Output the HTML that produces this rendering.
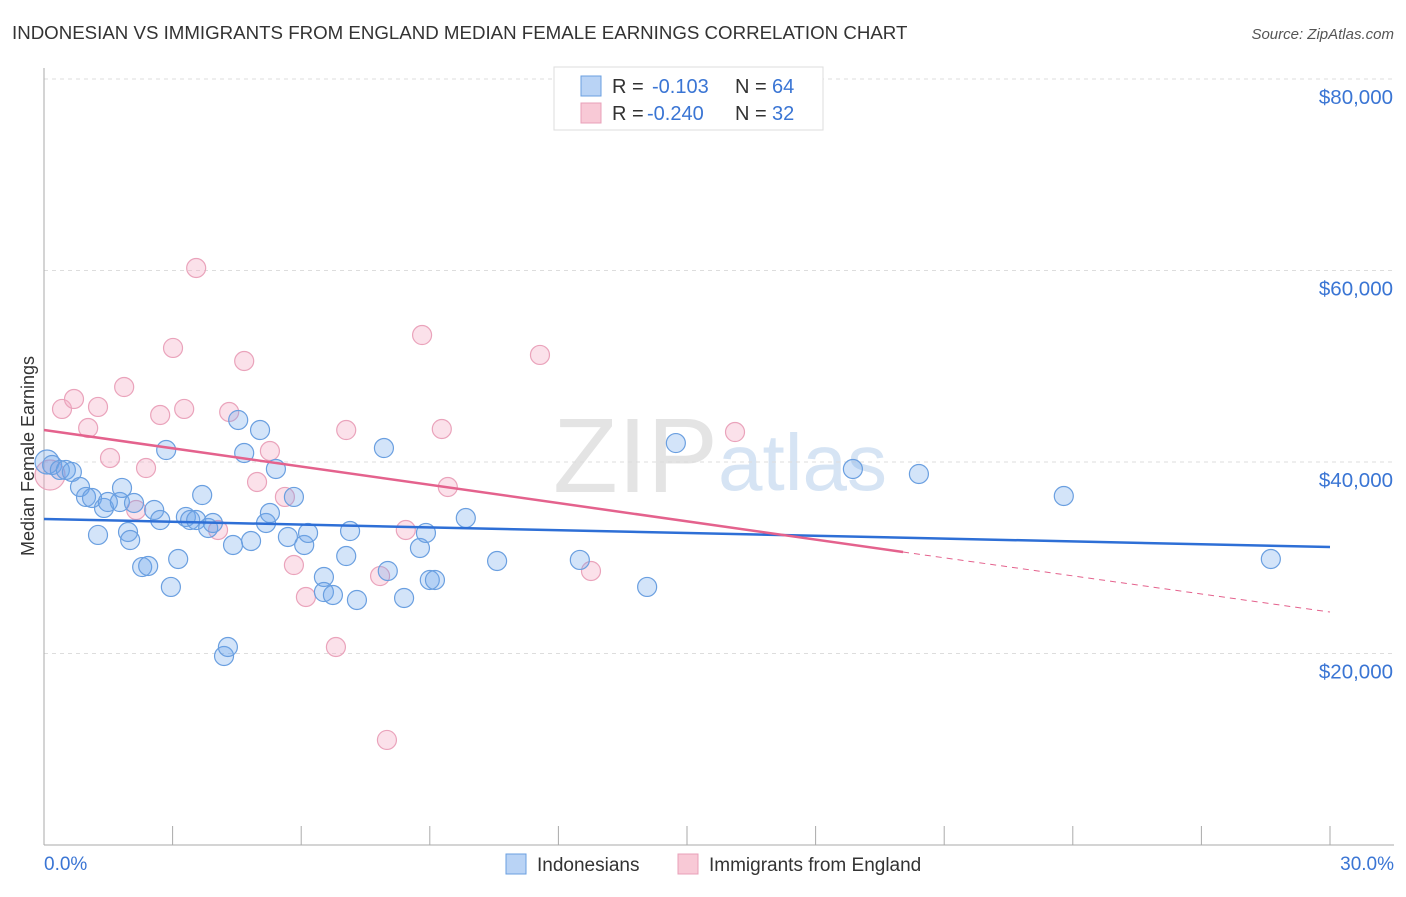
<!DOCTYPE html>
<html><head><meta charset="utf-8"><style>
body{margin:0;background:#fff;font-family:"Liberation Sans",sans-serif;}
svg text{font-family:"Liberation Sans",sans-serif;}
</style></head><body>
<svg id="chart" width="1406" height="892" xmlns="http://www.w3.org/2000/svg">
<text x="12" y="39" font-size="18.7" fill="#333">INDONESIAN VS IMMIGRANTS FROM ENGLAND MEDIAN FEMALE EARNINGS CORRELATION CHART</text>
<text x="1394" y="39" font-size="15" fill="#555" font-style="italic" text-anchor="end">Source: ZipAtlas.com</text>
<text x="553" y="492" font-size="106" fill="#e4e4e4" font-family="Liberation Serif">ZIP</text>
<text x="718" y="490" font-size="80" fill="#d6e4f4">atlas</text>
<g id="grid"></g><g id="axes"></g><g id="marks"></g>
<text transform="translate(34,456) rotate(-90)" font-size="18" fill="#333" text-anchor="middle">Median Female Earnings</text>
<g>
<rect x="554" y="67" width="269" height="63" fill="#fff" stroke="#ddd"/>
<rect x="581" y="76" width="20" height="20" fill="#b9d3f5" stroke="#6a9fe0"/>
<text x="612" y="93" font-size="20" fill="#333">R =</text>
<text x="652" y="93" font-size="20" fill="#3a75d4">-0.103</text>
<text x="735" y="93" font-size="20" fill="#333">N =</text>
<text x="772" y="93" font-size="20" fill="#3a75d4">64</text>
<rect x="581" y="103" width="20" height="20" fill="#f8c9d6" stroke="#e8a0b8"/>
<text x="612" y="120" font-size="20" fill="#333">R =</text>
<text x="647" y="120" font-size="20" fill="#3a75d4">-0.240</text>
<text x="735" y="120" font-size="20" fill="#333">N =</text>
<text x="772" y="120" font-size="20" fill="#3a75d4">32</text>
</g>
<g>
<rect x="506" y="854" width="20" height="20" fill="#b9d3f5" stroke="#6a9fe0"/>
<text x="537" y="871" font-size="19" fill="#333">Indonesians</text>
<rect x="678" y="854" width="20" height="20" fill="#f8c9d6" stroke="#e8a0b8"/>
<text x="709" y="871" font-size="19" fill="#333">Immigrants from England</text>
</g>
</svg>
<script>
const blueX=[0.07,0.19,0.37,0.51,0.65,0.84,0.98,1.12,1.40,1.49,1.77,1.82,1.26,1.96,2.01,2.10,2.29,2.43,2.57,2.71,2.85,2.96,3.13,3.31,3.41,3.55,3.69,3.83,3.94,4.20,4.29,4.41,4.53,4.67,4.83,5.04,5.18,5.27,5.41,5.69,5.83,6.07,6.16,6.53,6.53,6.74,7.05,7.14,7.30,7.93,8.02,8.40,8.77,8.91,9.00,9.12,9.84,10.57,12.50,14.07,14.74,18.87,20.41,23.79,28.62];
const blueY=[40000,39690,39170,39170,38960,37390,36350,36240,35200,35820,35820,37290,32380,32690,31850,35720,29030,29140,34990,33940,41250,26950,29870,34260,33940,33940,36550,33110,33630,19740,20680,31330,44390,40940,31750,43340,33630,34670,39270,32170,36350,31330,32590,27990,26420,26110,30180,32790,25590,41460,28620,25800,31020,32590,27680,27680,34150,29660,29770,26950,41980,39270,38750,36450,29870];
const pinkX=[0.14,0.42,0.70,1.03,1.26,1.54,1.87,2.15,2.38,2.71,3.01,3.27,3.55,4.06,4.32,4.67,4.97,5.27,5.62,5.83,6.11,6.81,7.05,7.84,8.00,8.44,8.82,9.28,9.42,11.57,12.76,16.12];
const pinkY=[38640,45540,46580,43550,45750,40420,47830,34990,39370,44910,51910,45540,60260,32900,45220,50550,37910,41150,36350,29240,25900,20680,43340,28090,10970,32900,53260,43450,37390,51180,28620,43130];
const blueTrend=[34050,31120];
const pinkTrend=[43340,30600,24330]; // at 0%, 20.04%, 30%
const pinkSolidEnd=20.04;
const yTicks=[20000,40000,60000,80000];
const yTickLabels=["$20,000","$40,000","$60,000","$80,000"];
const xTicks=[0,3,6,9,12,15,18,21,24,27,30];

const NS="http://www.w3.org/2000/svg";
const sx=v=>44+v/30*1286, sy=v=>845-v/80000*766;
function mk(tag,attrs,parent){const e=document.createElementNS(NS,tag);for(const k in attrs)e.setAttribute(k,attrs[k]);document.getElementById(parent).appendChild(e);return e;}
yTicks.forEach((t,i)=>{
 const g=mk('line',{x1:44,x2:1394,y1:sy(t),y2:sy(t),stroke:'#ddd','stroke-dasharray':'4,4'},'grid');
 
 
 const l=mk('text',{x:1393,y:sy(t)+25,'font-size':20.5,fill:'#3a75d4','text-anchor':'end'},'axes');
 l.textContent=yTickLabels[i];
 
 
});
mk('line',{x1:44,x2:44,y1:68,y2:845,stroke:'#aaa'},'axes');
mk('line',{x1:44,x2:1394,y1:845,y2:845,stroke:'#aaa'},'axes');
xTicks.forEach(t=>{const e=mk('line',{x1:sx(t),x2:sx(t),y1:826,y2:845,stroke:'#aaa'},'axes');
 
 });
const x0=mk('text',{x:44,y:870,'font-size':19,fill:'#3a75d4'},'axes');x0.textContent='0.0%';


const x1=mk('text',{x:1394,y:870,'font-size':19,fill:'#3a75d4','text-anchor':'end'},'axes');x1.textContent='30.0%';


pinkX.forEach((x,i)=>{const c=mk('circle',{cx:sx(x),cy:sy(pinkY[i]),r:i===0?15:9.5,fill:'rgba(244,170,195,0.35)',stroke:'#eaa3bb','stroke-width':1.2},'marks');
 
 });
blueX.forEach((x,i)=>{const c=mk('circle',{cx:sx(x),cy:sy(blueY[i]),r:i===0?12:9.5,fill:'rgba(110,165,235,0.3)',stroke:'#6a9fe0','stroke-width':1.2},'marks');
 
 });
const bl=mk('line',{x1:sx(0),y1:sy(blueTrend[0]),x2:sx(30),y2:sy(blueTrend[1]),stroke:'#2e6fd6','stroke-width':2.5},'marks');


const pl=mk('line',{x1:sx(0),y1:sy(pinkTrend[0]),x2:sx(pinkSolidEnd),y2:sy(pinkTrend[1]),stroke:'#e4628d','stroke-width':2.5},'marks');


const pd=mk('line',{x1:sx(pinkSolidEnd),y1:sy(pinkTrend[1]),x2:sx(30),y2:sy(pinkTrend[2]),stroke:'#e4628d','stroke-width':1,'stroke-dasharray':'6,5'},'marks');


</script>
</body></html>
